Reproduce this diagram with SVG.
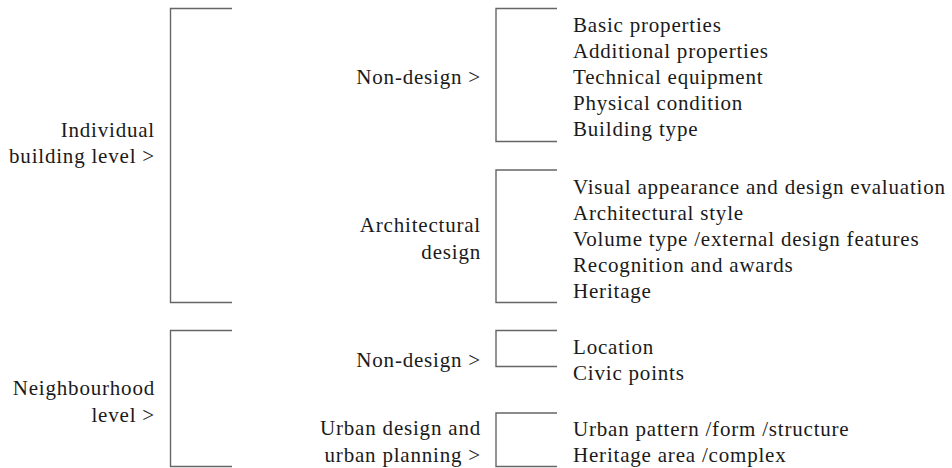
<svg xmlns="http://www.w3.org/2000/svg" width="952" height="468" viewBox="0 0 952 468">
<style>
text{font-family:'Liberation Serif','Times New Roman','DejaVu Serif',serif;font-size:21px;letter-spacing:0.8px;fill:#1a1a1a}
.r{text-anchor:end}
.br{fill:none;stroke:#666;stroke-width:1.4}
</style>
<rect width="952" height="468" fill="#fff"/>
<g id="connectors">
<path class="br" d="M232,8.5H170.5V302.5H232"/>
<path class="br" d="M232,330.5H170.5V466.5H232"/>
<path class="br" d="M557,8.5H496V141.5H557"/>
<path class="br" d="M557,170H496V302.5H557"/>
<path class="br" d="M557,330.5H496V366.5H557"/>
<path class="br" d="M557,413H496V466.5H557"/>
</g>
<g id="individual">
<text class="r" x="155" y="137">Individual</text>
<text class="r" x="155" y="163">building level &gt;</text>
</g>
<g id="neighbourhood">
<text class="r" x="155" y="395">Neighbourhood</text>
<text class="r" x="155" y="421.5">level &gt;</text>
</g>
<g id="nondesign1">
<text class="r" x="481" y="83.5">Non-design &gt;</text>
</g>
<g id="architectural">
<text class="r" x="481" y="232">Architectural</text>
<text class="r" x="481" y="258.5">design</text>
</g>
<g id="nondesign2">
<text class="r" x="481" y="366.5">Non-design &gt;</text>
</g>
<g id="urban">
<text class="r" x="481" y="435">Urban design and</text>
<text class="r" x="481" y="461.5">urban planning &gt;</text>
</g>
<g id="items1">
<text x="573" y="31.5">Basic properties</text>
<text x="573" y="57.5">Additional properties</text>
<text x="573" y="83.5">Technical equipment</text>
<text x="573" y="109.5">Physical condition</text>
<text x="573" y="135.5">Building type</text>
</g>
<g id="items2">
<text x="573" y="193.5">Visual appearance and design evaluation</text>
<text x="573" y="219.5">Architectural style</text>
<text x="573" y="245.5">Volume type /external design features</text>
<text x="573" y="271.5">Recognition and awards</text>
<text x="573" y="297.5">Heritage</text>
</g>
<g id="items3">
<text x="573" y="354">Location</text>
<text x="573" y="380">Civic points</text>
</g>
<g id="items4">
<text x="573" y="436">Urban pattern /form /structure</text>
<text x="573" y="461.5">Heritage area /complex</text>
</g>
</svg>
